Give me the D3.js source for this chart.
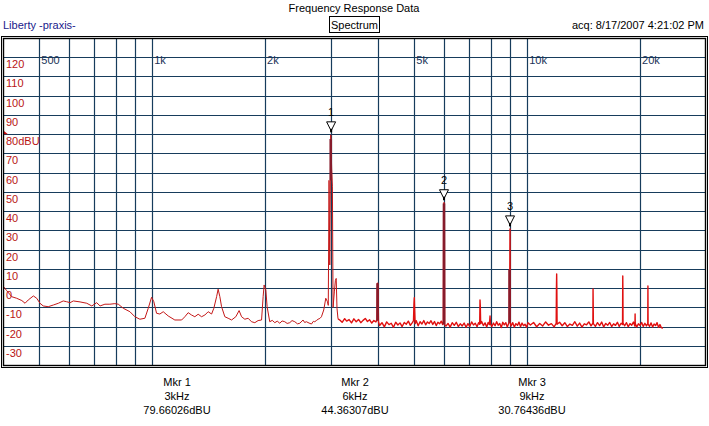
<!DOCTYPE html>
<html>
<head>
<meta charset="utf-8">
<script src="https://cdn.jsdelivr.net/npm/d3@7"></script>
<style>
  body { margin: 0; background: #fff; }
  svg text { font-family: "Liberation Sans", Arial, sans-serif; font-size: 11px; }
</style>
</head>
<body>
<svg id="chart" width="709" height="426"></svg>
<script>
// grid + labels
const gridFreqs = [500, 600, 700, 800, 900, 1000, 2000, 3000, 4000, 5000, 6000, 7000, 8000, 9000, 10000, 20000];
const freqLabels = ["500", "1k", "2k", "5k", "10k", "20k"];
const freqLabelAt = [500, 1000, 2000, 5000, 10000, 20000];
const levelTicks = [120, 110, 100, 90, 80, 70, 60, 50, 40, 30, 20, 10, 0, -10, -20, -30];
const refLevel = 80;

// markers
const markerNames = ["1", "2", "3"];
const markerFreqs = [3000, 6000, 9000];
const markerLevels = [79.66026, 44.36307, 30.76436];
const markerFreqText = ["3kHz", "6kHz", "9kHz"];
const markerLevelText = ["79.66026dBU", "44.36307dBU", "30.76436dBU"];

// trace [Hz, dBU]: below the 3k fundamental
const lowTrace = [
  [400, 1.1], [409, -1.3], [422, -4.5], [435, -5.3], [449, -6.5], [458, -7.9], [467, -6.2], [482, -4.1],
  [492, -5.3], [502, -7.9], [512, -9.3], [528, -9.7], [545, -8.8], [562, -7.9], [579, -6.7], [591, -7.1],
  [604, -7.6], [616, -6.7], [642, -7.2], [669, -7.9], [690, -9.3], [711, -7.6], [726, -9.3], [748, -8.4],
  [771, -8.4], [795, -8.1], [812, -8.4], [837, -10.5], [872, -12.3], [899, -14.9], [927, -16.2], [956, -15.7],
  [976, -10.5], [996, -4.8], [1010, -7.1], [1027, -13.1], [1048, -13.5], [1070, -12.3], [1103, -14.5],
  [1149, -16.6], [1198, -16.6], [1222, -14.9], [1247, -12.8], [1273, -14], [1299, -14.9], [1326, -13.6],
  [1354, -14.9], [1382, -14], [1410, -12.3], [1440, -13.5], [1460, -10.5], [1485, -4.5], [1499, -0.6],
  [1515, -4.5], [1531, -9.7], [1562, -14.9], [1594, -15.7], [1628, -16.6], [1671, -14.9], [1705, -11.7],
  [1731, -14.9], [1766, -16.2], [1802, -15.7], [1840, -17.5], [1878, -18], [1916, -16.9], [1957, -16.6],
  [1976, -4.5], [1988, 1.6], [2009, -1], [2025, -9.7], [2058, -17.5], [2090, -16.8], [2123, -18], [2155, -17.2],
  [2189, -18.3], [2220, -17.1], [2257, -17.5], [2290, -18.4], [2327, -18], [2360, -16.9], [2400, -17.5],
  [2440, -18.6], [2475, -18.3], [2525, -16.6], [2550, -17.9], [2578, -17.5], [2620, -18.2], [2659, -18.7],
  [2690, -17.3], [2713, -17.5], [2740, -16.9], [2769, -16.2], [2800, -15.8], [2827, -14.9], [2867, -11.4],
  [2903, -5.3], [2933, -7.1], [2948, -9], [2962, 56], [2975, 12], [2993, 79.66], [3010, 62], [3024, 53],
  [3036, -10], [3060, -2], [3080, 4], [3095, 5], [3110, -10.5], [3130, -16]
];

// trace [Hz, dBU] from 3.1 kHz up to the end of the sweep
const highTrace = [
  [3163, -16.6], [3210, -17.8], [3260, -15.9], [3300, -17.2], [3350, -16.4], [3400, -18.1], [3450, -16.0],
  [3500, -17.5], [3550, -16.3], [3600, -18.0], [3650, -16.8], [3700, -15.8], [3750, -17.4], [3800, -16.5],
  [3850, -18.2], [3900, -16.9], [3950, -17.6],
  [3975, -16.5], [3988, 2.5], [4000, 0], [4012, -17.5],
  [4040, -19.5], [4100, -18.0], [4160, -20.2], [4220, -17.6], [4280, -19.0], [4340, -18.3], [4400, -20.4],
  [4460, -17.8], [4520, -19.2], [4580, -18.1], [4640, -20.0], [4700, -17.9], [4760, -18.8], [4820, -17.2],
  [4880, -19.4], [4940, -18.0], [4975, -17.0],
  [4990, -8], [5000, -5], [5012, -12], [5025, -18.5],
  [5060, -17.0], [5120, -19.6], [5180, -17.5], [5240, -18.7], [5300, -16.9], [5360, -19.1], [5420, -17.6],
  [5480, -18.4], [5540, -17.0], [5600, -18.9], [5660, -17.4], [5720, -19.5], [5780, -17.8], [5840, -18.6],
  [5900, -17.2], [5950, -19.0],
  [5975, -17], [5988, 40], [6000, 44.36], [6012, 38], [6025, -19],
  [6070, -19.8], [6150, -18.4], [6230, -20.3], [6310, -18.0], [6390, -19.4], [6470, -17.8], [6550, -20.0],
  [6630, -18.6], [6710, -19.7], [6790, -18.2], [6870, -20.4], [6950, -18.5], [7030, -19.9], [7110, -17.6],
  [7190, -19.2], [7270, -18.3], [7350, -20.1], [7420, -18.0], [7470, -18.8],
  [7485, -6.2], [7500, -10], [7515, -18.5],
  [7560, -17.4], [7640, -19.5], [7720, -18.1], [7800, -20.2], [7870, -17.9], [7930, -19.0],
  [7960, -14.5], [7985, -18.8],
  [8050, -20.0], [8130, -18.2], [8210, -19.6], [8290, -17.5], [8370, -19.3], [8450, -18.4], [8530, -20.5],
  [8610, -17.8], [8690, -19.1], [8770, -18.0], [8850, -20.2], [8920, -18.6],
  [8955, -17.5], [8970, 9.4], [8985, 4], [9000, 30.76], [9012, -18],
  [9060, -19.7], [9150, -18.0], [9240, -20.3], [9330, -18.5], [9420, -19.4], [9510, -17.7], [9600, -20.1],
  [9690, -18.2], [9780, -19.6], [9870, -18.8], [9960, -20.4], [10050, -18.0],
  [10200, -19.2], [10400, -17.9], [10600, -20.1], [10800, -18.4], [11000, -19.7], [11200, -17.6],
  [11400, -19.3], [11600, -18.5], [11800, -20.2], [11950, -18.3],
  [11970, 1], [11985, 7.3], [12000, -2], [12015, -18.8],
  [12200, -17.8], [12400, -19.6], [12600, -18.0], [12800, -20.0], [13000, -18.7], [13200, -19.4],
  [13400, -17.5], [13600, -19.8], [13800, -18.2], [14000, -20.3], [14200, -18.6], [14400, -19.1],
  [14600, -17.6], [14800, -19.7], [14970, -18.3],
  [14985, -0.5], [15000, -9], [15015, -18.5],
  [15200, -19.9], [15400, -18.0], [15600, -19.5], [15800, -17.7], [16000, -20.2], [16200, -18.4],
  [16400, -19.3], [16600, -17.9], [16800, -20.0], [17000, -18.6], [17200, -19.4], [17400, -17.8],
  [17600, -19.9], [17800, -18.3], [17960, -19.0],
  [17985, 6.3], [18000, -1], [18015, -18.2],
  [18200, -19.6], [18400, -18.0], [18600, -20.1], [18800, -18.5], [19000, -19.3], [19200, -17.7], [19380, -19.8],
  [19400, -13.5], [19420, -18.4],
  [19600, -20.2], [19800, -18.6], [20000, -19.4], [20200, -17.9], [20400, -20.0], [20600, -18.3],
  [20800, -19.7], [20970, -18.5],
  [20990, 1.1], [21010, -18.8],
  [21200, -19.9], [21400, -18.1], [21600, -20.3], [21800, -18.7], [22000, -19.5], [22200, -18.0],
  [22400, -20.4], [22600, -19.0], [22800, -20.6], [23000, -20.9]
];

// dense (dark) cores of the strongest harmonics: [Hz, top dBU, bottom dBU]
const spikeCores = [
  [2993, 77.5, 56], [3990, 2.5, -17], [6000, 44, -19], [8975, 9.4, -18]
];

const gridColor = "#173c5c";
const labelRed = "#b81414";

const svg = d3.select("#chart");

// plot frame (inner box)
const plotLeft = 3, plotRight = 705, plotTop = 38, plotBottom = 365;

const x = d3.scaleLog().domain([400, 29800]).range([plotLeft, plotRight]);
const y = d3.scaleLinear().domain([-40, 130]).range([plotBottom, plotTop]);

// header
svg.append("text").attr("x", 354).attr("y", 12).attr("text-anchor", "middle")
  .text("Frequency Response Data");
svg.append("text").attr("x", 3).attr("y", 29).attr("fill", "#1a1a8c")
  .text("Liberty -praxis-");
svg.append("rect").attr("x", 329.5).attr("y", 16.5).attr("width", 50).attr("height", 16)
  .attr("fill", "none").attr("stroke", "#000");
svg.append("text").attr("x", 354.5).attr("y", 29).attr("text-anchor", "middle")
  .text("Spectrum");
svg.append("text").attr("x", 704).attr("y", 29).attr("text-anchor", "end")
  .text("acq: 8/17/2007 4:21:02 PM");

const plot = svg.append("g");

svg.append("clipPath").attr("id", "clip")
  .append("rect").attr("x", plotLeft).attr("y", plotTop)
  .attr("width", plotRight - plotLeft).attr("height", plotBottom - plotTop);

// grid
plot.selectAll("line.v")
  .data(gridFreqs)
  .join("line")
  .attr("class", "v")
  .attr("x1", d => Math.round(x(d)) + 0.5).attr("x2", d => Math.round(x(d)) + 0.5)
  .attr("y1", plotTop).attr("y2", plotBottom)
  .attr("stroke", gridColor).attr("stroke-width", 1.2);

plot.selectAll("line.h")
  .data(levelTicks)
  .join("line")
  .attr("class", "h")
  .attr("x1", plotLeft).attr("x2", plotRight)
  .attr("y1", d => Math.round(y(d)) + 0.5).attr("y2", d => Math.round(y(d)) + 0.5)
  .attr("stroke", gridColor).attr("stroke-width", 1.2);

// frequency labels sit right of their line, near the top
plot.selectAll("text.fl")
  .data(freqLabels)
  .join("text")
  .attr("class", "fl")
  .attr("x", (d, i) => x(freqLabelAt[i]) + 2)
  .attr("y", 64)
  .attr("fill", "#1b3358")
  .text(d => d);

// level labels sit just under their line
plot.selectAll("text.ll")
  .data(levelTicks)
  .join("text")
  .attr("class", "ll")
  .attr("x", 6)
  .attr("y", d => y(d) + 11)
  .attr("fill", labelRed)
  .text(d => d === refLevel ? d + "dBU" : d);

// reference level tick on the left edge
plot.append("path")
  .attr("d", `M${plotLeft},${y(refLevel) - 4}L${plotLeft + 5},${y(refLevel)}L${plotLeft},${y(refLevel)}Z`)
  .attr("fill", "#d01010");

// trace
const line = d3.line().x(d => x(d[0])).y(d => y(d[1]));
const traces = plot.append("g").attr("clip-path", "url(#clip)");
traces.append("path")
  .datum(lowTrace)
  .attr("d", line)
  .attr("fill", "none")
  .attr("stroke", "#c41818")
  .attr("stroke-width", 1)
  .attr("stroke-linejoin", "round");
traces.append("path")
  .datum([lowTrace[lowTrace.length - 1]].concat(highTrace))
  .attr("d", line)
  .attr("fill", "none")
  .attr("stroke", "#e01010")
  .attr("stroke-width", 1.4)
  .attr("stroke-linejoin", "round");
traces.selectAll("line.core")
  .data(spikeCores)
  .join("line")
  .attr("class", "core")
  .attr("x1", d => x(d[0])).attr("x2", d => x(d[0]))
  .attr("y1", d => y(d[1])).attr("y2", d => y(d[2]))
  .attr("stroke", "#861b2b")
  .attr("stroke-width", 2.6);

// markers
markerFreqs.forEach((f, i) => {
  const mx = x(f), my = y(markerLevels[i]);
  plot.append("text")
    .attr("x", mx).attr("y", my - 18.5)
    .attr("text-anchor", "middle")
    .text(markerNames[i]);
  plot.append("path")
    .attr("d", `M${mx - 4.5},${my - 13}L${mx + 4.5},${my - 13}L${mx},${my - 4}Z`)
    .attr("fill", "#fff").attr("stroke", "#000").attr("stroke-width", 1);
  plot.append("line")
    .attr("x1", mx).attr("x2", mx).attr("y1", my - 6).attr("y2", my - 2.5)
    .attr("stroke", "#000").attr("stroke-width", 2);
});

// frame: double black border
svg.append("rect").attr("x", plotLeft + 0.5).attr("y", plotTop + 0.5)
  .attr("width", plotRight - plotLeft).attr("height", plotBottom - plotTop)
  .attr("fill", "none").attr("stroke", "#000").attr("stroke-width", 1.4);
svg.append("rect").attr("x", plotLeft - 1.5).attr("y", plotTop - 1.5)
  .attr("width", plotRight - plotLeft + 4).attr("height", plotBottom - plotTop + 4)
  .attr("fill", "none").attr("stroke", "#000").attr("stroke-width", 1);

// marker readouts under the plot
const readoutX = [177, 355, 532];
markerNames.forEach((n, i) => {
  const g = svg.append("g").attr("text-anchor", "middle");
  g.append("text").attr("x", readoutX[i]).attr("y", 386).text("Mkr " + n);
  g.append("text").attr("x", readoutX[i]).attr("y", 400).text(markerFreqText[i]);
  g.append("text").attr("x", readoutX[i]).attr("y", 414).text(markerLevelText[i]);
});
</script>
</body>
</html>
